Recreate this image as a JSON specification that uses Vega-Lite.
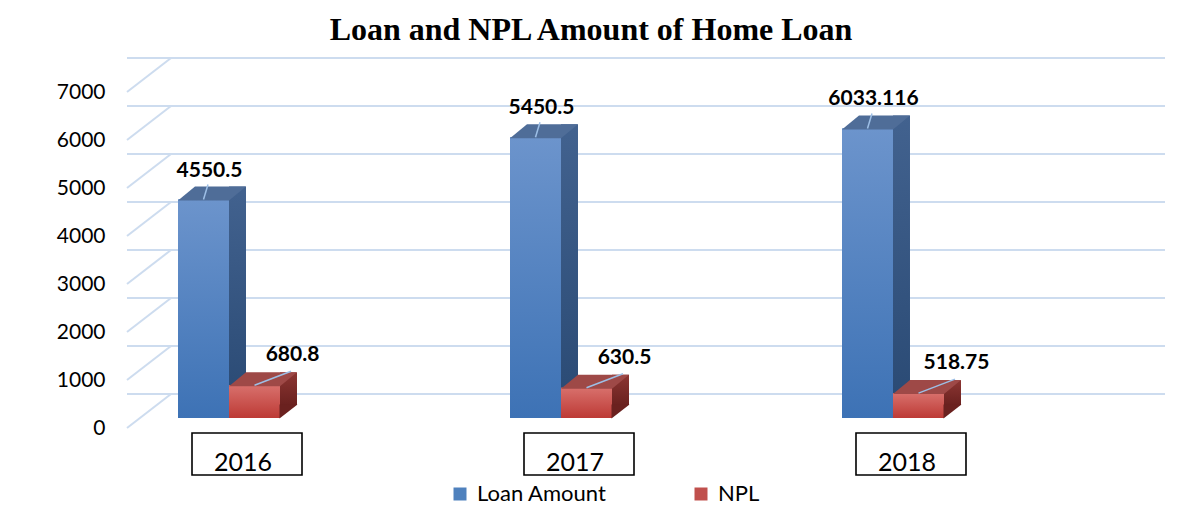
{
  "$schema": "https://vega.github.io/schema/vega-lite/v6.json",
  "autosize": {"type": "none"},
  "width": 994,
  "height": 336,
  "padding": {"left": 127, "top": 92, "right": 83, "bottom": 84},
  "background": "white",
  "title": {
    "text": "Loan and NPL Amount of Home Loan",
    "font": "Liberation Serif",
    "fontSize": 32,
    "fontWeight": "bold",
    "color": "black",
    "anchor": "middle",
    "dx": -33,
    "offset": 10
  },
  "config": {
    "view": {"stroke": null},
    "axis": {"labelFont": "Lato", "labelColor": "black", "title": null, "ticks": false, "domain": false, "grid": false}
  },
  "datasets": {
    "bars": [
      {"year": "2016", "series": "Loan Amount", "amount": 4550.5, "label": "4550.5"},
      {"year": "2016", "series": "NPL", "amount": 680.8, "label": "680.8"},
      {"year": "2017", "series": "Loan Amount", "amount": 5850, "label": "5450.5"},
      {"year": "2017", "series": "NPL", "amount": 630.5, "label": "630.5"},
      {"year": "2018", "series": "Loan Amount", "amount": 6033.116, "label": "6033.116"},
      {"year": "2018", "series": "NPL", "amount": 518.75, "label": "518.75"}
    ],
    "grid": [
      {"v": 0}, {"v": 1000}, {"v": 2000}, {"v": 3000}, {"v": 4000}, {"v": 5000}, {"v": 6000}, {"v": 7000}
    ]
  },
  "layer": [
    {
      "data": {"name": "grid"},
      "mark": {"type": "rule", "color": "#cddcef", "strokeWidth": 2, "xOffset": 44, "x2Offset": 44, "yOffset": -34},
      "encoding": {
        "y": {"field": "v", "type": "quantitative", "scale": {"domain": [0, 7000], "nice": false}, "axis": {"values": [0, 1000, 2000, 3000, 4000, 5000, 6000, 7000], "format": "d", "labelFontSize": 21, "labelPadding": 22}}
      }
    },
    {
      "data": {"name": "grid"},
      "mark": {"type": "rule", "color": "#cddcef", "strokeWidth": 2, "y2Offset": -34},
      "encoding": {
        "x": {"value": 0},
        "x2": {"value": 44},
        "y": {"field": "v", "type": "quantitative"},
        "y2": {"field": "v"}
      }
    },
    {
      "data": {"name": "bars"},
      "transform": [{"filter": "datum.series === 'Loan Amount'"}],
      "mark": {"type": "bar", "yOffset": -10, "y2Offset": -10},
      "encoding": {
        "x": {"field": "year", "type": "nominal", "scale": {"paddingInner": 0.6928, "paddingOuter": 0.3434, "align": 0.2237}, "axis": {"labelAngle": 0, "labelFontSize": 25, "labelPadding": 22, "labelOffset": 14}},
        "xOffset": {"field": "series", "type": "nominal", "scale": {"domain": ["Loan Amount", "NPL"], "paddingInner": 0, "paddingOuter": 0}},
        "y": {"field": "amount", "type": "quantitative"},
        "y2": {"datum": 0},
        "color": {
          "field": "series", "type": "nominal",
          "scale": {"domain": ["Loan Amount", "NPL"], "range": ["#4f81bd", "#c0504d"]},
          "legend": {
            "title": null, "orient": "none", "direction": "horizontal", "legendX": 322, "legendY": 391,
            "symbolType": "square", "symbolSize": 169, "symbolStrokeWidth": 0, "labelFont": "Lato", "labelFontSize": 22,
            "labelColor": "black", "labelOffset": 6, "columnPadding": 83, "padding": 0
          }
        }
      }
    },
    {
      "data": {"name": "bars"},
      "transform": [{"filter": "datum.series === 'Loan Amount'"}],
      "mark": {"type": "bar", "yOffset": -10, "y2Offset": -10, "fill": {"gradient": "linear", "x1": 0, "y1": 0, "x2": 0, "y2": 1, "stops": [{"offset": 0, "color": "#6c94cc"}, {"offset": 1, "color": "#3d72b5"}]}},
      "encoding": {
        "x": {"field": "year", "type": "nominal"},
        "xOffset": {"field": "series", "type": "nominal"},
        "y": {"field": "amount", "type": "quantitative"},
        "y2": {"datum": 0}
      }
    },
    {
      "data": {"name": "bars"},
      "transform": [{"filter": "datum.series === 'Loan Amount'"}],
      "mark": {"type": "bar", "width": 17, "xOffset": 8.5, "yOffset": -23, "y2Offset": -23, "fill": {"gradient": "linear", "x1": 0, "y1": 0, "x2": 0, "y2": 1, "stops": [{"offset": 0, "color": "#42628f"}, {"offset": 1, "color": "#2a4a74"}]}},
      "encoding": {
        "x": {"field": "year", "type": "nominal"},
        "y": {"field": "amount", "type": "quantitative"},
        "y2": {"datum": 0}
      }
    },
    {
      "data": {"name": "bars"},
      "transform": [{"filter": "datum.series === 'Loan Amount'"}],
      "mark": {"type": "point", "shape": "M-0.51,0.02L0.51,0.02L0.85,-0.26L-0.17,-0.26Z", "size": 10000, "filled": true, "opacity": 1, "fill": "#4f6d98", "strokeWidth": 0, "yOffset": -10},
      "encoding": {
        "x": {"field": "year", "type": "nominal"},
        "xOffset": {"field": "series", "type": "nominal"},
        "y": {"field": "amount", "type": "quantitative"}
      }
    },
    {
      "data": {"name": "bars"},
      "transform": [{"filter": "datum.series === 'Loan Amount'"}],
      "mark": {"type": "rule", "color": "#9dbfe6", "strokeWidth": 1.5, "xOffset": -25.5, "x2Offset": -21, "yOffset": -10, "y2Offset": -25},
      "encoding": {
        "x": {"field": "year", "type": "nominal"},
        "x2": {"field": "year"},
        "y": {"field": "amount", "type": "quantitative"},
        "y2": {"field": "amount"}
      }
    },
    {
      "data": {"name": "bars"},
      "transform": [{"filter": "datum.series === 'NPL'"}],
      "mark": {"type": "bar", "yOffset": -10, "y2Offset": -10},
      "encoding": {
        "x": {"field": "year", "type": "nominal"},
        "xOffset": {"field": "series", "type": "nominal"},
        "y": {"field": "amount", "type": "quantitative"},
        "y2": {"datum": 0},
        "color": {"field": "series", "type": "nominal"}
      }
    },
    {
      "data": {"name": "bars"},
      "transform": [{"filter": "datum.series === 'NPL'"}],
      "mark": {"type": "bar", "yOffset": -10, "y2Offset": -10, "fill": {"gradient": "linear", "x1": 0, "y1": 0, "x2": 0, "y2": 1, "stops": [{"offset": 0, "color": "#d8706c"}, {"offset": 1, "color": "#bd3a35"}]}},
      "encoding": {
        "x": {"field": "year", "type": "nominal"},
        "xOffset": {"field": "series", "type": "nominal"},
        "y": {"field": "amount", "type": "quantitative"},
        "y2": {"datum": 0}
      }
    },
    {
      "data": {"name": "bars"},
      "transform": [{"filter": "datum.series === 'NPL'"}],
      "mark": {"type": "bar", "width": 17, "xOffset": 59.5, "yOffset": -23, "y2Offset": -23, "fill": {"gradient": "linear", "x1": 0, "y1": 0, "x2": 0, "y2": 1, "stops": [{"offset": 0, "color": "#8c3633"}, {"offset": 1, "color": "#6a211f"}]}},
      "encoding": {
        "x": {"field": "year", "type": "nominal"},
        "y": {"field": "amount", "type": "quantitative"},
        "y2": {"datum": 0}
      }
    },
    {
      "data": {"name": "bars"},
      "transform": [{"filter": "datum.series === 'NPL'"}],
      "mark": {"type": "point", "shape": "M-0.51,0.02L0.51,0.02L0.85,-0.26L-0.17,-0.26Z", "size": 10000, "filled": true, "opacity": 1, "fill": "#9e4947", "strokeWidth": 0, "yOffset": -10},
      "encoding": {
        "x": {"field": "year", "type": "nominal"},
        "xOffset": {"field": "series", "type": "nominal"},
        "y": {"field": "amount", "type": "quantitative"}
      }
    },
    {
      "data": {"name": "bars"},
      "transform": [{"filter": "datum.series === 'NPL'"}],
      "mark": {"type": "point", "shape": "M0.5,0.01L0.5,-0.27L0.86,-0.27Z", "size": 10000, "filled": true, "opacity": 1, "fill": "#6a211f", "strokeWidth": 0, "yOffset": -10},
      "encoding": {
        "x": {"field": "year", "type": "nominal"},
        "xOffset": {"field": "series", "type": "nominal"},
        "y": {"datum": 0}
      }
    },
    {
      "data": {"name": "bars"},
      "transform": [{"filter": "datum.series === 'NPL'"}],
      "mark": {"type": "rule", "color": "#9dbfe6", "strokeWidth": 1.5, "xOffset": 25.5, "x2Offset": 62, "yOffset": -10, "y2Offset": -24},
      "encoding": {
        "x": {"field": "year", "type": "nominal"},
        "x2": {"field": "year"},
        "y": {"field": "amount", "type": "quantitative"},
        "y2": {"field": "amount"}
      }
    },
    {
      "data": {"name": "bars"},
      "transform": [{"filter": "datum.series === 'Loan Amount'"}],
      "mark": {"type": "text", "font": "Lato", "fontWeight": "bold", "fontSize": 21, "color": "black", "baseline": "alphabetic", "dx": 6, "dy": -33},
      "encoding": {
        "x": {"field": "year", "type": "nominal"},
        "xOffset": {"field": "series", "type": "nominal"},
        "y": {"field": "amount", "type": "quantitative"},
        "text": {"field": "label"}
      }
    },
    {
      "data": {"name": "bars"},
      "transform": [{"filter": "datum.series === 'NPL'"}],
      "mark": {"type": "text", "font": "Lato", "fontWeight": "bold", "fontSize": 21, "color": "black", "baseline": "alphabetic", "dx": 38, "dy": -34},
      "encoding": {
        "x": {"field": "year", "type": "nominal"},
        "xOffset": {"field": "series", "type": "nominal"},
        "y": {"field": "amount", "type": "quantitative"},
        "text": {"field": "label"}
      }
    },
    {
      "data": {"name": "bars"},
      "transform": [{"filter": "datum.series === 'Loan Amount'"}],
      "mark": {"type": "bar", "width": 110, "xOffset": 18, "yOffset": 5, "y2Offset": 47, "fill": "white", "fillOpacity": 0, "stroke": "black", "strokeWidth": 1.6},
      "encoding": {
        "x": {"field": "year", "type": "nominal"},
        "y": {"datum": 0},
        "y2": {"datum": 0}
      }
    }
  ]
}
